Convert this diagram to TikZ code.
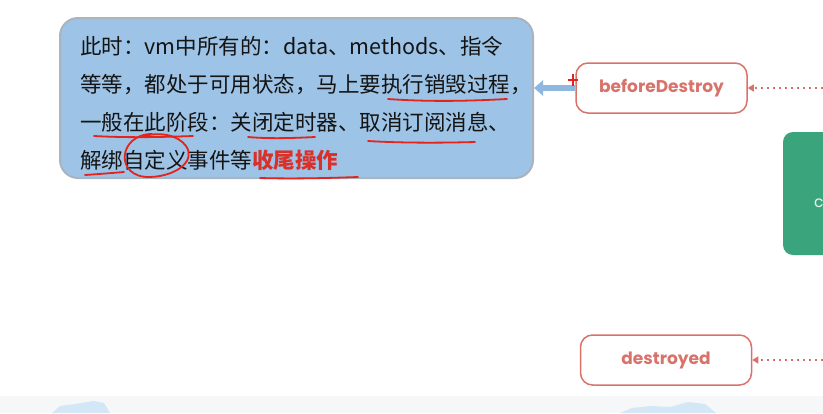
\documentclass[tikz,border=0pt]{standalone}
\usepackage{fontspec}
\usetikzlibrary{calc,arrows.meta,positioning}
\newfontfamily\cjk{Noto Sans CJK SC}
\newfontfamily\hookfont{Poppins}
\definecolor{noteblue}{HTML}{9DC3E6}
\definecolor{noteedge}{HTML}{A9B4BF}
\definecolor{arrowblue}{HTML}{8FB8E0}
\definecolor{hookred}{HTML}{D8736C}
\definecolor{pen}{HTML}{E3231C}
\definecolor{boldred}{HTML}{D9302A}
\definecolor{stagegreen}{HTML}{3AA57C}
\definecolor{strip}{HTML}{F6F7F8}
\definecolor{blob}{HTML}{D3E7F6}
\newcommand{\plusmark}[2]{\draw[pen,line width=1.6pt] (#1-5,#2)--(#1+5,#2) (#1,#2-6)--(#1,#2+6);}

\begin{document}
\begin{tikzpicture}[x=1pt,y=-1pt,
  hook/.style={draw=hookred,line width=1.5pt,rounded corners=12pt,minimum width=171pt,minimum height=50pt,
    text=hookred,font=\hookfont\bfseries\fontsize{17}{20}\selectfont},
  noteline/.style={anchor=base west,inner sep=0pt,text=black!92,font=\cjk\fontsize{21.5}{24}\selectfont},
  dots/.style={hookred,line width=1.6pt,dash pattern=on 2.5pt off 3.5pt,-{Triangle[length=6pt,width=7pt]}},
  ink/.style={pen,line width=1.8pt,line cap=round}]
\useasboundingbox (0,0) rectangle (823,413);
\clip (0,0) rectangle (823,413);
% bottom strip
\fill[strip] (0,396) rectangle (823,413);
\fill[blob] (52,413)--(60,406)--(75,404)--(94,401)--(104,403)--(110,413)--cycle;
\fill[blob] (620,413)--(632,408)--(650,406)--(670,407)--(688,402)--(705,404)--(716,413)--cycle;
% note box
\node[draw=noteedge,line width=2pt,fill=noteblue,rounded corners=18pt,minimum width=473pt,minimum height=160pt] (note) at (296.5,98) {};
\node[noteline] (l1) at (80,54) {此时：vm中所有的：data、methods、指令};
\node[noteline] (l2) at (80,92) {等等，都处于可用状态，马上要执行销毁过程，};
\node[noteline] (l3) at (80,130) {一般在此阶段：关闭定时器、取消订阅消息、};
\node[noteline] (l4) at (80,168) {解绑自定义事件等{\color{boldred}\bfseries 收尾操作}};
% hooks
\node[hook] (bd) at (661.5,88) {beforeDestroy};
\node[hook] (dd) at (666,360) {destroyed};
\fill[stagegreen,rounded corners=10pt] (783,132) rectangle (860,255);
\node[anchor=west,inner sep=0pt,text=white!90!stagegreen,font=\hookfont\fontsize{15.5}{18}\selectfont] (stage) at (814,203) {c};
\coordinate (bdin) at (823,88);
\coordinate (ddin) at (823,360);
\draw[dots] (bdin)--(bd.east);
\draw[dots] (ddin)--(dd.east);
\draw[arrowblue,line width=6pt,-{Triangle[length=9pt,width=15pt]}] (bd.west)--(note.east|-bd.west);
\plusmark{573}{80}
% pen marks
\draw[ink] (388,99) .. controls (430,102) and (470,101) .. (507,99);
\draw[ink] (94,136) .. controls (130,138) and (165,137) .. (193,136);
\draw[ink] (248,137) .. controls (270,139) and (295,138) .. (315,137);
\draw[ink] (368,141) .. controls (400,143) and (440,143) .. (475,142);
\draw[ink] (85,175) .. controls (100,174) and (112,173) .. (124,172);
\draw[ink] (260,178) .. controls (295,179) and (330,178) .. (358,177);
\draw[ink] (152,134) .. controls (118,134) and (114,178) .. (150,177)
  .. controls (178,176) and (196,160) .. (186,146) .. controls (178,135) and (160,131) .. (140,137);
\end{tikzpicture}
\end{document}
